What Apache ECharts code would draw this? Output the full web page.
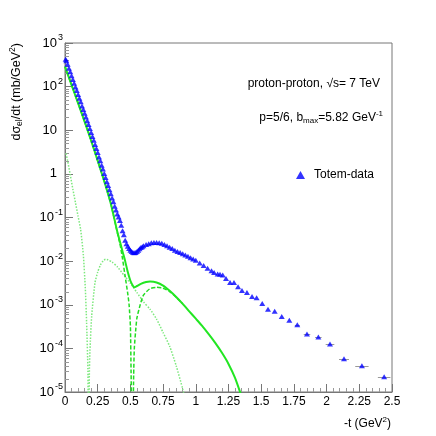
<!DOCTYPE html>
<html>
<head>
<meta charset="UTF-8">
<title>pp elastic dsigma/dt, 7 TeV</title>
<script src="https://cdn.jsdelivr.net/npm/echarts@6/dist/echarts.min.js"></script>
<style>
    html, body { margin: 0; padding: 0; background: #fff; }
    #main { width: 436px; height: 436px; }
</style>
</head>
<body>
<div id="main"></div>
<script>
    // TOTEM data, -t in GeV^2, dsigma/dt in mb/GeV^2
    var totemT = [0.005,0.01,0.02,0.03,0.04,0.05,0.06,0.07,0.08,0.09,0.10,0.11,0.12,0.13,0.14,0.15,0.16,0.17,0.18,0.19,
        0.20,0.21,0.22,0.23,0.24,0.25,0.26,0.27,0.28,0.29,0.30,0.31,0.32,0.33,0.34,0.35,0.36,0.37,0.38,0.39,
        0.40,0.41,0.42,0.43,0.44,0.45,0.46,0.47,0.48,0.49,0.50,0.51,0.52,0.53,0.54,0.55,0.56,0.57,0.58,0.59,
        0.60,0.62,0.64,0.66,0.68,0.70,0.72,0.74,0.76,0.78,0.80,0.82,0.84,0.86,0.88,0.90,0.92,0.94,0.96,0.98,
        1.00,1.03,1.06,1.09,1.12,1.14,1.167,1.185,1.206,1.231,1.262,1.292,1.323,1.353,1.391,1.43,1.465,1.508,
        1.552,1.603,1.657,1.715,1.776,1.85,1.937,2.026,2.133,2.27,2.44];
    var totemSigma = [425,390,324,263,219,178,145,120,98,81,66,54,45,36,30,24.5,20,16.6,13.5,11,
        8.9,7.2,5.9,4.7,3.8,3.1,2.45,2.0,1.58,1.29,1.02,0.83,0.66,0.54,0.43,0.35,0.28,0.23,0.18,0.148,
        0.12,0.102,0.085,0.066,0.050,0.040,0.030,0.0251,0.0219,0.0195,0.0178,0.0166,0.0158,0.0155,0.0158,0.0166,0.0178,0.0191,0.0204,0.0214,
        0.0224,0.0240,0.0251,0.0263,0.0269,0.0269,0.0263,0.0257,0.0240,0.0224,0.0209,0.0195,0.0178,0.0166,0.0158,0.0148,0.0138,0.0129,0.0120,0.0112,
        0.0105,0.0091,0.0079,0.0069,0.0060,0.0055,0.0051,0.0050,0.0048,0.0040,0.00324,0.00324,0.00258,0.00213,0.00191,0.00155,0.00145,0.00107,
        0.00079,0.00071,0.00054,0.00044,0.00035,0.000214,0.000182,0.000126,5.75e-5,3.98e-5,2.24e-5];
    // horizontal bin half-widths of the last points
    var binT = [1.776,1.85,1.937,2.026,2.133,2.27,2.44];
    var binHalf = [0.019,0.025,0.025,0.033,0.038,0.051,0.048];

    // model: total (solid)
    var fullT = [0.00,0.05,0.10,0.15,0.20,0.25,0.30,0.35,0.40,0.42,0.44,0.46,0.48,0.50,0.52,0.53,0.55,0.58,0.62,0.65,
        0.70,0.75,0.80,0.85,0.90,0.95,1.00,1.05,1.10,1.15,1.20,1.25,1.30,1.35];
    var fullSigma = [288,110,41.7,15.8,5.75,2.0,0.676,0.209,0.047,0.028,0.0166,0.0100,0.0056,0.00355,0.0027,0.00251,0.00269,0.00302,0.00331,0.00339,
        0.00324,0.00275,0.00209,0.00151,0.00105,0.000708,0.000479,0.000324,0.000209,0.000132,7.9e-5,4.4e-5,2.1e-5,7.9e-6];
    // model: component with the dip (dashed)
    var dipT = [0.00,0.10,0.20,0.30,0.35,0.40,0.42,0.44,0.46,0.48,0.49,0.50,0.505,0.515,0.525,0.53,0.54,0.55,0.575,0.60,
        0.65,0.70,0.75,0.80,0.85,0.90];
    var dipSigma = [288,41.7,5.75,0.676,0.209,0.045,0.025,0.0112,0.00447,0.00178,0.0010,3.2e-4,3.2e-5,3e-7,2.5e-5,1e-4,2.5e-4,5e-4,0.0010,0.00166,
        0.00234,0.00251,0.0024,0.0020,0.00148,0.00105];
    // model: second component (light dotted)
    var secT = [0.008,0.02,0.04,0.06,0.08,0.10,0.12,0.14,0.155,0.165,0.175,0.181,0.186,0.191,0.204,0.229,0.25,0.27,0.29,0.31,
        0.33,0.36,0.40,0.45,0.50,0.55,0.60,0.65,0.70,0.75,0.80,0.85,0.90,0.92];
    var secSigma = [2.95,2.0,0.955,0.447,0.219,0.107,0.052,0.0141,0.0025,4e-4,3.2e-5,1e-7,2.5e-5,9.3e-5,5.5e-4,0.00316,0.0056,0.0081,0.0100,0.0110,
        0.0107,0.0095,0.0074,0.0048,0.0031,0.0019,0.00117,7.9e-4,4.7e-4,2.3e-4,1.12e-4,4.0e-5,1.17e-5,6.3e-6];

    var yDecades = [1e-5,1e-4,1e-3,1e-2,1e-1,1,10,100,1000];
    var yMinorTicks = [];
    yDecades.slice(0, -1).forEach(function (d) {
        [2,3,4,5,6,7,8,9].forEach(function (m) { yMinorTicks.push([0, m * d]); });
    });

    var FONT = "'Liberation Sans', Arial, sans-serif";

    function zip(a, b) {
        return a.map(function (v, i) { return [v, b[i]]; });
    }

    // ROOT style: 1, 10 plain, the rest as 10^n
    function yLabel(v) {
        var e = Math.round(Math.log10(v));
        if (e === 0) return '{p|1}';
        if (e === 1) return '{p|10}';
        return '{b|10}{s|' + e + '}';
    }

    var chart = echarts.init(document.getElementById('main'), null, {renderer: 'canvas'});

    var option = {
        backgroundColor: '#fff',
        animation: false,
        textStyle: {fontFamily: FONT},
        grid: {left: 65, top: 43, right: 44, bottom: 44, show: true, borderColor: '#777', borderWidth: 1},
        legend: {
            data: ['Totem-data'], left: 291, top: 164, itemWidth: 9, itemHeight: 8,
            textStyle: {fontSize: 12, fontFamily: FONT, color: '#000', padding: [0, 0, 0, 4]}
        },
        xAxis: {
            type: 'value', min: 0, max: 2.5, interval: 0.25,
            axisLine: {show: true, lineStyle: {color: '#777'}},
            axisTick: {show: true, inside: true, length: 8, lineStyle: {color: '#777'}},
            minorTick: {show: true, splitNumber: 5, length: 4, lineStyle: {color: '#999'}},
            axisLabel: {margin: 4, fontSize: 12, color: '#000', fontFamily: FONT},
            splitLine: {show: false}
        },
        yAxis: {
            type: 'log', logBase: 10, min: 1e-5, max: 1e3,
            axisLine: {show: true, lineStyle: {color: '#777'}},
            axisTick: {show: true, inside: true, length: 8, lineStyle: {color: '#777'}},
            axisLabel: {
                margin: 2, fontSize: 13, color: '#000', fontFamily: FONT,
                formatter: yLabel,
                rich: {
                    p: {fontSize: 13, color: '#000', fontFamily: FONT, padding: [0, 6, 0, 0]},
                    b: {fontSize: 13, color: '#000', fontFamily: FONT},
                    s: {fontSize: 9, color: '#000', fontFamily: FONT, padding: [0, 0, 10, 1]}
                }
            },
            splitLine: {show: false}
        },
        graphic: [
            {
                type: 'text', x: 380, y: 84,
                style: {text: 'proton-proton, \u221As= 7 TeV', font: '12px ' + FONT, fill: '#000', align: 'right', verticalAlign: 'middle'}
            },
            {
                type: 'text', x: 383, y: 118,
                style: {
                    text: 'p=5/6, b{sub|max}=5.82 GeV{sup|-1}', font: '12px ' + FONT, fill: '#000',
                    align: 'right', verticalAlign: 'middle',
                    rich: {
                        sub: {fontSize: 8, fontFamily: FONT, fill: '#000', padding: [6, 0, 0, 0]},
                        sup: {fontSize: 8, fontFamily: FONT, fill: '#000', padding: [0, 0, 8, 0]}
                    }
                }
            },
            {
                type: 'text', x: 17, y: 43, rotation: Math.PI / 2,
                style: {
                    text: 'd\u03C3{sub|el}/dt (mb/GeV{sup|2})', font: '12.5px ' + FONT, fill: '#000',
                    align: 'right', verticalAlign: 'middle',
                    rich: {
                        sub: {fontSize: 8.5, fontFamily: FONT, fill: '#000', padding: [6, 0, 0, 0]},
                        sup: {fontSize: 8.5, fontFamily: FONT, fill: '#000', padding: [0, 0, 8, 0]}
                    }
                }
            },
            {
                type: 'text', x: 391, y: 424,
                style: {
                    text: '-t (GeV{sup|2})', font: '12px ' + FONT, fill: '#000',
                    align: 'right', verticalAlign: 'middle',
                    rich: {sup: {fontSize: 8, fontFamily: FONT, fill: '#000', padding: [0, 0, 8, 0]}}
                }
            }
        ],
        series: [
            {
                name: 'minor ticks', type: 'custom', silent: true, z: 1,
                data: yMinorTicks,
                renderItem: function (params, api) {
                    var p = api.coord([0, api.value(1)]);
                    var y = Math.round(p[1]) + 0.5;
                    return {type: 'line', shape: {x1: p[0], y1: y, x2: p[0] + 4, y2: y}, style: {stroke: '#999', lineWidth: 1}};
                }
            },
            {
                name: 'second', type: 'line', data: zip(secT, secSigma), symbol: 'none', smooth: 0.2, z: 2,
                lineStyle: {color: '#7de87d', width: 1.5, type: [1.5, 1.5]}
            },
            {
                name: 'dip', type: 'line', data: zip(dipT, dipSigma), symbol: 'none', smooth: 0.2, z: 2,
                lineStyle: {color: '#22dd22', width: 1.5, type: [4, 2]}
            },
            {
                name: 'total', type: 'line', data: zip(fullT, fullSigma), symbol: 'none', smooth: 0.2, z: 3,
                lineStyle: {color: '#22e622', width: 2}
            },
            {
                name: 'bins', type: 'custom', silent: true, z: 4,
                data: binT.map(function (t, i) { return [t, totemSigma[totemT.indexOf(t)], binHalf[i]]; }),
                renderItem: function (params, api) {
                    var a = api.coord([api.value(0) - api.value(2), api.value(1)]);
                    var b = api.coord([api.value(0) + api.value(2), api.value(1)]);
                    var y = Math.round(a[1]) + 0.5;
                    return {type: 'line', shape: {x1: a[0], y1: y, x2: b[0], y2: y}, style: {stroke: '#999', lineWidth: 1}};
                }
            },
            {
                name: 'Totem-data', type: 'scatter', data: zip(totemT, totemSigma), z: 5,
                symbol: 'triangle', symbolSize: [6, 5],
                itemStyle: {color: '#0000ff'}
            }
        ]
    };

    chart.setOption(option);
</script>
</body>
</html>
